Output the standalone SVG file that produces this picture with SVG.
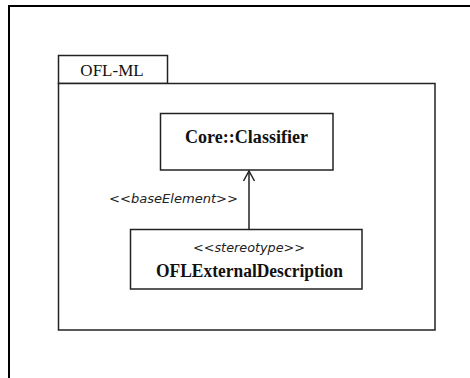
<svg xmlns="http://www.w3.org/2000/svg" width="470" height="378" viewBox="0 0 470 378">
  <style>
    .frame { fill: none; stroke: #000; stroke-width: 2; }
    .box { fill: #fff; stroke: #222; stroke-width: 1.5; }
    .title { font-family: "Liberation Serif", "Times New Roman", serif; font-size: 17px; fill: #111; }
    .name { font-family: "Liberation Serif", "Times New Roman", serif; font-size: 18px; font-weight: bold; fill: #111; }
    .stereo { font-family: "DejaVu Sans", "Liberation Sans", sans-serif; font-style: italic; font-size: 12px; fill: #222; }
    .edge { fill: none; stroke: #222; stroke-width: 1.5; }
  </style>
  <defs>
    <!-- open arrowhead, drawn pointing along +x so orient="auto" follows the line -->
    <marker id="open-arrow" markerWidth="14" markerHeight="14" refX="11" refY="7" orient="auto" markerUnits="userSpaceOnUse" viewBox="0 0 14 14">
      <path d="M1,1.5 L11,7 L1,12.5" fill="none" stroke="#222" stroke-width="1.5"/>
    </marker>
  </defs>

  <rect width="470" height="378" fill="#fff"/>

  <!-- outer canvas frame (top and left edges) -->
  <path class="frame" d="M9,378 V6 H470"/>

  <!-- package OFL-ML -->
  <g id="package-ofl-ml">
    <rect class="box" x="58.5" y="55.5" width="109" height="28"/>
    <rect class="box" x="58.5" y="83.5" width="376.5" height="246.5"/>
    <text class="title" x="112" y="75.5" text-anchor="middle">OFL-ML</text>
  </g>

  <!-- metaclass Core::Classifier -->
  <g id="core-classifier">
    <rect class="box" x="160.5" y="113.5" width="172.5" height="56.5"/>
    <text class="name" x="246.5" y="143" text-anchor="middle" textLength="123" lengthAdjust="spacingAndGlyphs">Core::Classifier</text>
  </g>

  <!-- stereotype OFLExternalDescription -->
  <g id="ofl-external-description">
    <rect class="box" x="130.5" y="229.5" width="231.5" height="59.5"/>
    <text class="stereo" x="249" y="252" text-anchor="middle" textLength="112" lengthAdjust="spacingAndGlyphs">&lt;&lt;stereotype&gt;&gt;</text>
    <text class="name" x="249.5" y="277" text-anchor="middle" textLength="187" lengthAdjust="spacingAndGlyphs">OFLExternalDescription</text>
  </g>

  <!-- connectors -->
  <g id="connectors">
    <line class="edge" x1="249" y1="229" x2="249" y2="171" marker-end="url(#open-arrow)"/>
    <text class="stereo" x="109" y="203" textLength="129" lengthAdjust="spacingAndGlyphs">&lt;&lt;baseElement&gt;&gt;</text>
  </g>
</svg>
